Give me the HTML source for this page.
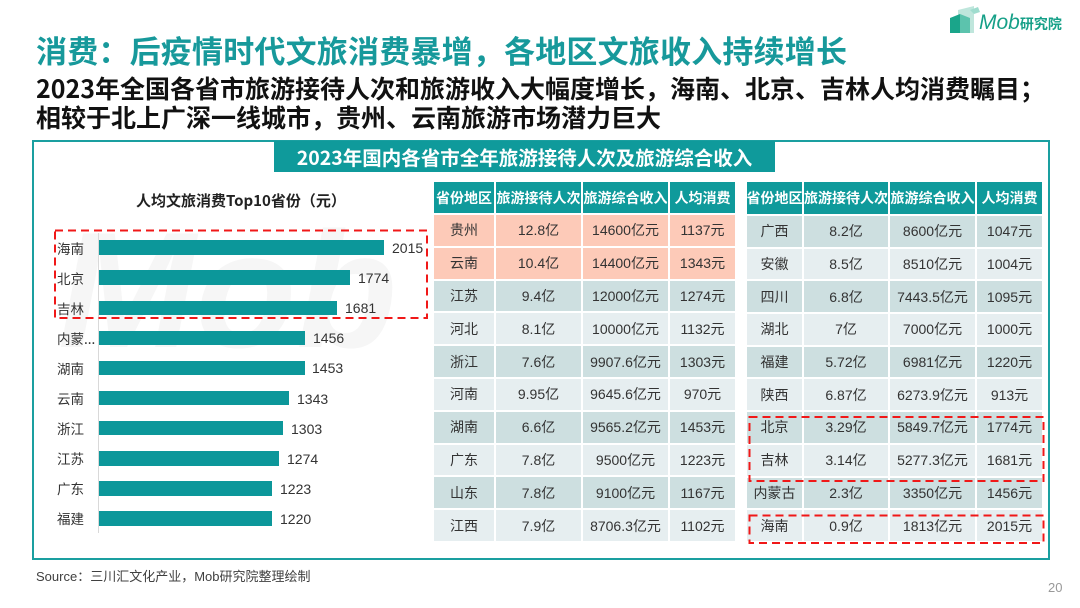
<!DOCTYPE html>
<html><head><meta charset="utf-8">
<style>
*{margin:0;padding:0;box-sizing:border-box}
body{width:1080px;height:608px;background:#fff;position:relative;overflow:hidden;font-family:"Liberation Sans","Noto Sans CJK SC",sans-serif;color:#333}
.abs{position:absolute;white-space:nowrap}
.title{left:36px;top:34px;font-size:31px;line-height:31px;font-weight:bold;color:#17999b;letter-spacing:0.2px;font-family:"Noto Sans CJK SC",sans-serif}
.sub{left:36px;font-size:25px;line-height:25px;font-weight:bold;color:#111;font-family:"Noto Sans CJK SC",sans-serif}
.frame{left:32px;top:140px;width:1018px;height:420px;border:2px solid #1a9fa0}
.tbar{left:274px;top:141px;width:501px;height:31px;background:#0f9a9b;color:#fff;font-weight:bold;font-size:19.5px;line-height:31px;text-align:center;font-family:"Noto Sans CJK SC",sans-serif}
.ctitle{left:136px;top:193px;font-size:15px;line-height:15px;font-weight:bold;color:#222;font-family:"Noto Sans CJK SC",sans-serif}
.wm{left:58px;top:208px;font-size:165px;line-height:165px;font-weight:bold;font-style:italic;color:#f6f6f6}
.axis{left:98px;top:233px;width:1px;height:300px;background:#d9d9d9}
.bar{position:absolute;left:99px;height:14.5px;background:#0c979a}
.lab{position:absolute;left:57px;font-size:13.5px;line-height:14px;color:#333;font-family:"Noto Sans CJK SC",sans-serif}
.val{position:absolute;font-size:14px;line-height:14px;color:#333}
.tbl{position:absolute;display:grid;column-gap:2px;row-gap:2px}
.tbl div{display:flex;align-items:center;justify-content:center;font-size:14px;color:#333;white-space:nowrap}
.tbl .h{background:#0f9a9b;color:#fff;font-weight:bold;font-family:"Noto Sans CJK SC",sans-serif}
.tbl .s{background:#fdcab8}
.tbl .d{background:#cddfe0}
.tbl .l{background:#e6eef0}
.t1{left:434px;top:182px;grid-template-columns:60px 85px 85px 65px;grid-template-rows:31px repeat(10,30.8px)}
.t2{left:747px;top:182px;grid-template-columns:55px 84px 85px 65px;grid-template-rows:32px repeat(10,30.7px)}
</style></head>
<body>
<div class="abs title">消费：后疫情时代文旅消费暴增，各地区文旅收入持续增长</div>
<div class="abs sub" style="top:76px">2023年全国各省市旅游接待人次和旅游收入大幅度增长，海南、北京、吉林人均消费瞩目；</div>
<div class="abs sub" style="top:105px">相较于北上广深一线城市，贵州、云南旅游市场潜力巨大</div>

<svg class="abs" style="left:948px;top:4px" width="34" height="32" viewBox="0 0 34 32">
  <polygon points="10,6 26,2 26,29 10,29" fill="#bfe6dc"/>
  <polygon points="2,14 12,10 12,29 2,29" fill="#1aa58a"/>
  <polygon points="12,10 22,14 22,29 12,29" fill="#5cc3ad"/>
  <polygon points="22,6 30,3 32,8 26,10" fill="#9fdcce"/>
</svg>
<div class="abs" style="left:979px;top:12px;font-size:21px;line-height:22px;font-style:italic;color:#16a088">Mob<span style="font-style:normal;font-size:14px;font-weight:bold;font-family:'Noto Sans CJK SC',sans-serif">研究院</span></div>

<div class="abs frame"></div>
<div class="abs wm">Mob</div>
<div class="abs tbar">2023年国内各省市全年旅游接待人次及旅游综合收入</div>

<div class="abs ctitle">人均文旅消费Top10省份（元）</div>
<div class="abs axis"></div>

<div class="bar" style="top:240.3px;width:285px"></div>
<div class="bar" style="top:270.4px;width:251px"></div>
<div class="bar" style="top:300.5px;width:238px"></div>
<div class="bar" style="top:330.6px;width:206px"></div>
<div class="bar" style="top:360.7px;width:205.5px"></div>
<div class="bar" style="top:390.8px;width:190px"></div>
<div class="bar" style="top:420.9px;width:184px"></div>
<div class="bar" style="top:451px;width:180px"></div>
<div class="bar" style="top:481.1px;width:173px"></div>
<div class="bar" style="top:511.2px;width:172.5px"></div>

<div class="lab" style="top:240.5px">海南</div>
<div class="lab" style="top:270.6px">北京</div>
<div class="lab" style="top:300.7px">吉林</div>
<div class="lab" style="top:330.8px">内蒙...</div>
<div class="lab" style="top:360.9px">湖南</div>
<div class="lab" style="top:391px">云南</div>
<div class="lab" style="top:421.1px">浙江</div>
<div class="lab" style="top:451.2px">江苏</div>
<div class="lab" style="top:481.3px">广东</div>
<div class="lab" style="top:511.4px">福建</div>

<div class="val" style="top:241px;left:392px">2015</div>
<div class="val" style="top:271.1px;left:358px">1774</div>
<div class="val" style="top:301.2px;left:345px">1681</div>
<div class="val" style="top:331.3px;left:313px">1456</div>
<div class="val" style="top:361.4px;left:312px">1453</div>
<div class="val" style="top:391.5px;left:297px">1343</div>
<div class="val" style="top:421.6px;left:291px">1303</div>
<div class="val" style="top:451.7px;left:287px">1274</div>
<div class="val" style="top:481.8px;left:280px">1223</div>
<div class="val" style="top:511.9px;left:280px">1220</div>

<div class="tbl t1">
<div class="h">省份地区</div><div class="h">旅游接待人次</div><div class="h">旅游综合收入</div><div class="h">人均消费</div>
<div class="s">贵州</div><div class="s">12.8亿</div><div class="s">14600亿元</div><div class="s">1137元</div>
<div class="s">云南</div><div class="s">10.4亿</div><div class="s">14400亿元</div><div class="s">1343元</div>
<div class="d">江苏</div><div class="d">9.4亿</div><div class="d">12000亿元</div><div class="d">1274元</div>
<div class="l">河北</div><div class="l">8.1亿</div><div class="l">10000亿元</div><div class="l">1132元</div>
<div class="d">浙江</div><div class="d">7.6亿</div><div class="d">9907.6亿元</div><div class="d">1303元</div>
<div class="l">河南</div><div class="l">9.95亿</div><div class="l">9645.6亿元</div><div class="l">970元</div>
<div class="d">湖南</div><div class="d">6.6亿</div><div class="d">9565.2亿元</div><div class="d">1453元</div>
<div class="l">广东</div><div class="l">7.8亿</div><div class="l">9500亿元</div><div class="l">1223元</div>
<div class="d">山东</div><div class="d">7.8亿</div><div class="d">9100亿元</div><div class="d">1167元</div>
<div class="l">江西</div><div class="l">7.9亿</div><div class="l">8706.3亿元</div><div class="l">1102元</div>
</div>

<div class="tbl t2">
<div class="h">省份地区</div><div class="h">旅游接待人次</div><div class="h">旅游综合收入</div><div class="h">人均消费</div>
<div class="d">广西</div><div class="d">8.2亿</div><div class="d">8600亿元</div><div class="d">1047元</div>
<div class="l">安徽</div><div class="l">8.5亿</div><div class="l">8510亿元</div><div class="l">1004元</div>
<div class="d">四川</div><div class="d">6.8亿</div><div class="d">7443.5亿元</div><div class="d">1095元</div>
<div class="l">湖北</div><div class="l">7亿</div><div class="l">7000亿元</div><div class="l">1000元</div>
<div class="d">福建</div><div class="d">5.72亿</div><div class="d">6981亿元</div><div class="d">1220元</div>
<div class="l">陕西</div><div class="l">6.87亿</div><div class="l">6273.9亿元</div><div class="l">913元</div>
<div class="d">北京</div><div class="d">3.29亿</div><div class="d">5849.7亿元</div><div class="d">1774元</div>
<div class="l">吉林</div><div class="l">3.14亿</div><div class="l">5277.3亿元</div><div class="l">1681元</div>
<div class="d">内蒙古</div><div class="d">2.3亿</div><div class="d">3350亿元</div><div class="d">1456元</div>
<div class="l">海南</div><div class="l">0.9亿</div><div class="l">1813亿元</div><div class="l">2015元</div>
</div>

<svg class="abs" style="left:0;top:0" width="1080" height="608">
  <g fill="none" stroke="#f01818" stroke-width="2" stroke-dasharray="8 5">
    <rect x="55" y="230.5" width="372" height="87.5"/>
    <rect x="749.5" y="417" width="294" height="64"/>
    <rect x="749.5" y="515.5" width="294" height="27.5"/>
  </g>
</svg>

<div class="abs" style="left:36px;top:570px;font-size:13px;line-height:14px;color:#404040">Source：三川汇文化产业，Mob研究院整理绘制</div>
<div class="abs" style="left:1048px;top:581px;font-size:13px;line-height:14px;color:#999">20</div>
</body></html>
